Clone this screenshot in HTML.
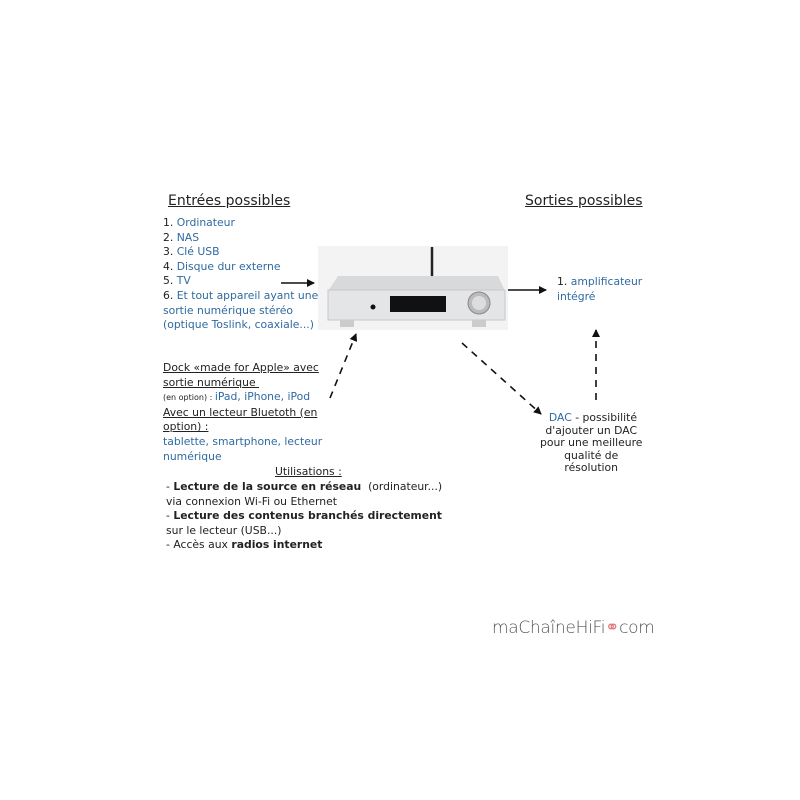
<!DOCTYPE html>
<html><head><meta charset="utf-8"><style>
body{margin:0;width:800px;height:800px;background:#fff;position:relative;overflow:hidden;font-family:"DejaVu Sans","Liberation Sans",sans-serif;color:#222}
.t{position:absolute;white-space:nowrap;font-size:10.8px;line-height:14.6px}
.b{color:#2f6aa0}
.u{text-decoration:underline}
h{position:absolute;font-size:14px;text-decoration:underline;white-space:nowrap;color:#222}
</style></head><body>
<h style="left:168px;top:193px">Entrées possibles</h>
<h style="left:525px;top:193px">Sorties possibles</h>
<div class="t" style="left:163px;top:216px">1. <span class="b">Ordinateur</span><br>2. <span class="b">NAS</span><br>3. <span class="b">Clé USB</span><br>4. <span class="b">Disque dur externe</span><br>5. <span class="b">TV</span><br>6. <span class="b">Et tout appareil ayant une<br>sortie numérique stéréo<br>(optique Toslink, coaxiale...)</span></div>
<div class="t" style="left:163px;top:361px"><span class="u">Dock «made for Apple» avec</span><br><span class="u">sortie numérique&nbsp;</span><br><span style="font-size:8px">(en option) : </span><span class="b">iPad, iPhone, iPod</span><br><span class="u">Avec un lecteur Bluetoth (en</span><br><span class="u">option) :</span><br><span class="b">tablette, smartphone, lecteur<br>numérique</span></div>
<div class="t u" style="left:275px;top:465px">Utilisations :</div>
<div class="t" style="left:166px;top:480px">- <b>Lecture de la source en réseau</b>&nbsp; (ordinateur...)<br>via connexion Wi-Fi ou Ethernet<br>- <b>Lecture des contenus branchés directement</b><br>sur le lecteur (USB...)<br>- Accès aux <b>radios internet</b></div>
<div class="t" style="left:557px;top:275px">1. <span class="b">amplificateur<br>intégré</span></div>
<div class="t" style="left:540px;top:412px;text-align:center;line-height:12.5px">&nbsp;<span class="b">DAC</span> - possibilité<br>d'ajouter un DAC<br>pour une meilleure<br>qualité de<br>résolution</div>
<div style="position:absolute;left:492px;top:618px;font-size:17px;color:#555;font-family:'DejaVu Sans',sans-serif;font-weight:200;letter-spacing:-0.3px">maChaîneHiFi<span style="color:#e07a80">&#9901;</span>com</div>
<svg width="800" height="800" style="position:absolute;left:0;top:0">
<defs><marker id="a" markerWidth="8" markerHeight="8" refX="7" refY="4" orient="auto" markerUnits="userSpaceOnUse"><path d="M0,0 L8,4 L0,8 z" fill="#111"/></marker></defs>
<rect x="318" y="246" width="190" height="84" fill="#f3f3f3"/>
<line x1="432" y1="247" x2="432" y2="278" stroke="#222" stroke-width="2.5"/>
<polygon points="338,276 498,276 505,291 328,291" fill="#d8d9db"/>
<rect x="328" y="290" width="177" height="30" fill="#e4e5e7" stroke="#c8c8c8"/>
<rect x="390" y="296" width="56" height="16" fill="#111"/>
<circle cx="479" cy="303" r="11" fill="#bbb" stroke="#888"/>
<circle cx="479" cy="303" r="7" fill="#ddd"/>
<circle cx="373" cy="307" r="2.5" fill="#111"/>
<rect x="340" y="320" width="14" height="7" fill="#ccc"/>
<rect x="472" y="320" width="14" height="7" fill="#ccc"/>
<g stroke="#111" stroke-width="1.6" fill="none">
<line x1="281" y1="283" x2="314" y2="283" marker-end="url(#a)"/>
<line x1="508" y1="290" x2="546" y2="290" marker-end="url(#a)"/>
<line x1="330" y1="398" x2="356" y2="334" stroke-dasharray="7,6" marker-end="url(#a)"/>
<line x1="462" y1="343" x2="541" y2="414" stroke-dasharray="7,6" marker-end="url(#a)"/>
<line x1="596" y1="400" x2="596" y2="330" stroke-dasharray="7,6" marker-end="url(#a)"/>
</g>
</svg>
</body></html>
